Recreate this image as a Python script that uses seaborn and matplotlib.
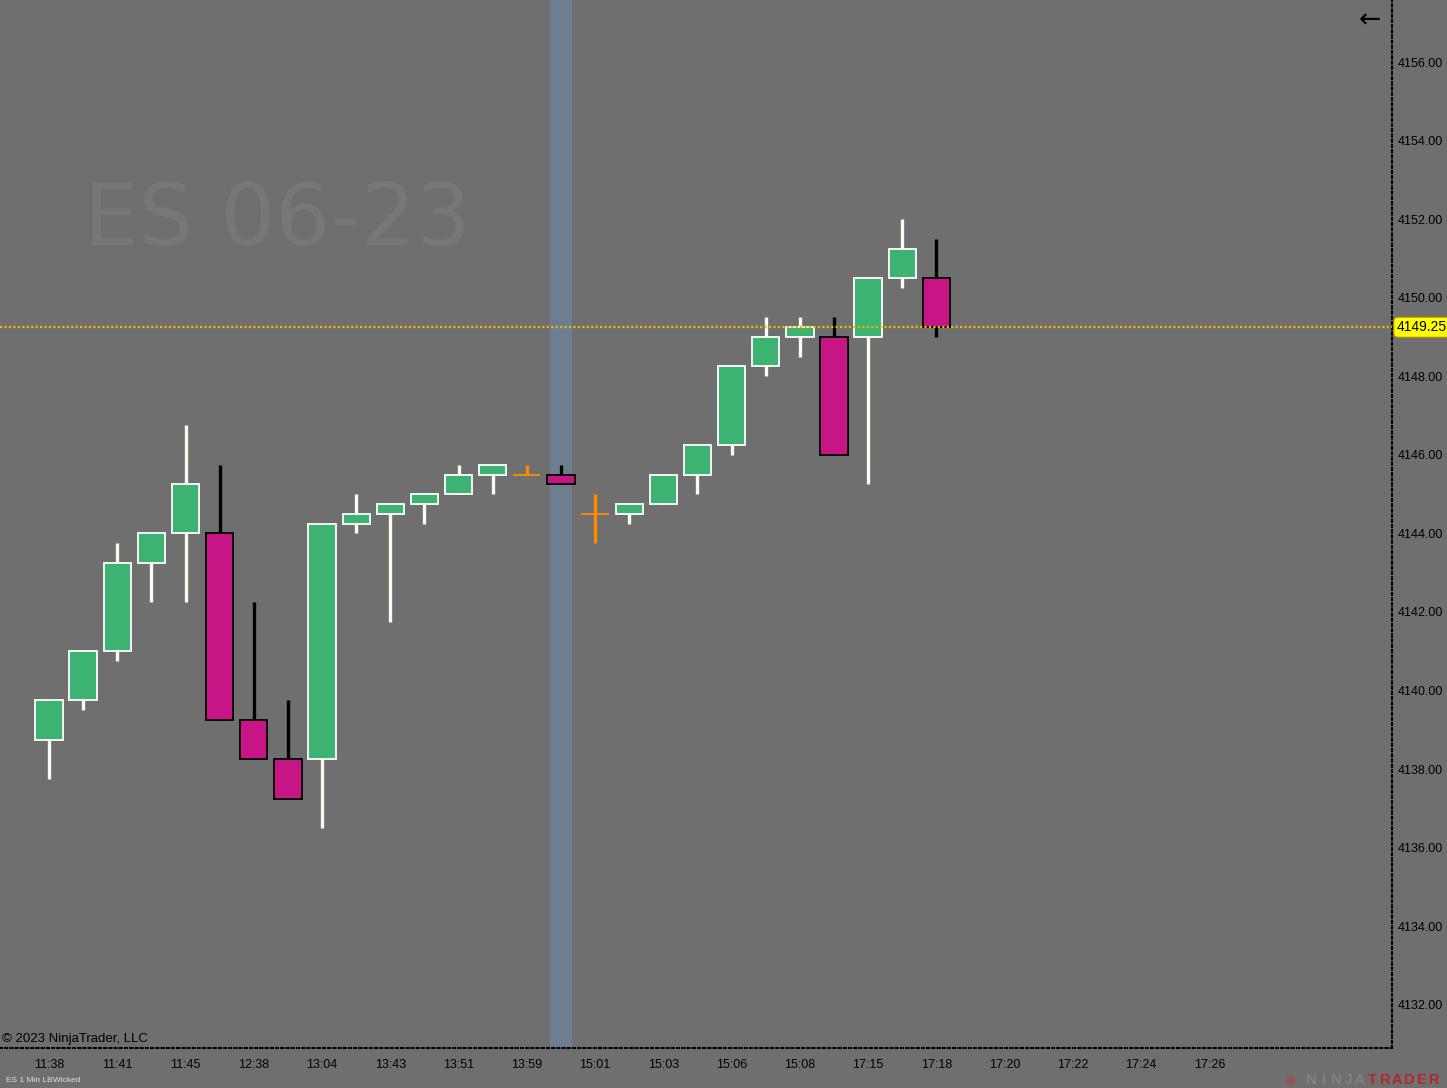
import matplotlib
matplotlib.use("Agg")
import matplotlib.pyplot as plt
import numpy as np
import pandas as pd
import seaborn as sns

# one-minute bars
opens = [4138.75, 4139.75, 4141.00, 4143.25, 4144.00, 4144.00, 4139.25, 4138.25, 4138.25,
         4144.25, 4144.50, 4144.75, 4145.00, 4145.50, 4145.50, 4145.50, 4144.50, 4144.50,
         4144.75, 4145.50, 4146.25, 4148.25, 4149.00, 4149.00, 4149.00, 4150.50, 4150.50]
closes = [4139.75, 4141.00, 4143.25, 4144.00, 4145.25, 4139.25, 4138.25, 4137.25, 4144.25,
          4144.50, 4144.75, 4145.00, 4145.50, 4145.75, 4145.50, 4145.25, 4144.50, 4144.75,
          4145.50, 4146.25, 4148.25, 4149.00, 4149.25, 4146.00, 4150.50, 4151.25, 4149.25]
highs = [4139.75, 4141.00, 4143.75, 4144.00, 4146.75, 4145.75, 4142.25, 4139.75, 4144.25,
         4145.00, 4144.75, 4145.00, 4145.75, 4145.75, 4145.75, 4145.75, 4145.00, 4144.75,
         4145.50, 4146.25, 4148.25, 4149.50, 4149.50, 4149.50, 4150.50, 4152.00, 4151.50]
lows = [4137.75, 4139.50, 4140.75, 4142.25, 4142.25, 4139.25, 4138.25, 4137.25, 4136.50,
        4144.00, 4141.75, 4144.25, 4145.00, 4145.00, 4145.50, 4145.25, 4143.75, 4144.25,
        4144.75, 4145.00, 4146.00, 4148.00, 4148.50, 4146.00, 4145.25, 4150.25, 4149.00]

time_labels = ["11:38", "11:41", "11:45", "12:38", "13:04", "13:43", "13:51", "13:59", "15:01",
               "15:03", "15:06", "15:08", "17:15", "17:18", "17:20", "17:22", "17:24", "17:26"]
price_ticks = [4132, 4134, 4136, 4138, 4140, 4142, 4144, 4146, 4148, 4150, 4152, 4154, 4156]
last_price = 4149.25
selected_bar = 15

df = pd.DataFrame({"open": opens, "high": highs, "low": lows, "close": closes})
df["idx"] = np.arange(len(df))
df["kind"] = np.where(df["close"] > df["open"], "up",
                      np.where(df["close"] < df["open"], "down", "doji"))

BG = "#6f6f6f"
UP = "#3cb371"
DOWN = "#c71585"
DOJI = "#ff8c00"

sns.set_theme(style="white", rc={"axes.facecolor": BG, "figure.facecolor": BG})
plt.rcParams["font.family"] = ["Liberation Sans", "DejaVu Sans"]

fig = plt.figure(figsize=(14.47, 10.88), dpi=100)
ax = fig.add_axes([0, 40 / 1088, 1392 / 1447, 1048 / 1088])
ax.set_facecolor(BG)

# highlighted bar column
ax.axvspan(selected_bar - 0.32, selected_bar + 0.32, color="#6d7e91", zorder=1, lw=0)

width = 0.8
wick_col = {"up": "#fffaf0", "down": "black", "doji": DOJI}
for kind, grp in df.groupby("kind"):
    ax.vlines(grp["idx"], grp["low"], grp["high"], colors=wick_col[kind], lw=2.4, zorder=2)
    if kind == "doji":
        ax.hlines(grp["open"], grp["idx"] - width / 2, grp["idx"] + width / 2,
                  colors=DOJI, lw=1.3, zorder=3)
    else:
        ax.bar(grp["idx"], grp["close"] - grp["open"], bottom=grp["open"], width=width,
               color=UP if kind == "up" else DOWN,
               edgecolor="white" if kind == "up" else "black", linewidth=1.3, zorder=3)

# last price line
ax.axhline(last_price, color="#e6b800", lw=1.6, ls=(0, (1, 1)), zorder=4)
ax.text(1.0035, last_price, f"{last_price:.2f}", transform=ax.get_yaxis_transform(),
        ha="left", va="center", fontsize=10, color="black", zorder=6, clip_on=False,
        bbox=dict(boxstyle="round,pad=0.22,rounding_size=0.3", fc="#ffff00", ec="#b09000", lw=0.8))

ax.set_xlim(-1.436, 39.35)
ax.set_ylim(4130.90, 4157.58)

ax.yaxis.tick_right()
ax.set_yticks(price_ticks)
ax.set_yticklabels([f"{p:.2f}" for p in price_ticks])
ax.set_xticks(np.arange(0, 2 * len(time_labels), 2))
ax.set_xticklabels(time_labels)
ax.tick_params(axis="both", length=0, labelsize=9, colors="black")
ax.tick_params(axis="y", pad=4)
ax.tick_params(axis="x", pad=8)

for side in ["top", "left"]:
    ax.spines[side].set_visible(False)
for side in ["right", "bottom"]:
    ax.spines[side].set_visible(True)
    ax.spines[side].set_color("black")
    ax.spines[side].set_linestyle((0, (1, 1.5)))
    ax.spines[side].set_linewidth(1.5)

# watermark and chrome
ax.text(0.060, 0.789, "ES 06-23", transform=ax.transAxes, ha="left", va="center",
        fontsize=62, color="#777777", zorder=0, family=["DejaVu Sans"])
ax.text(0.984, 0.98, "\u2190", transform=ax.transAxes, ha="center", va="center",
        fontsize=19, color="black", family=["DejaVu Sans"])
fig.text(2 / 1447, 1 - 1039 / 1088, "\u00a9 2023 NinjaTrader, LLC", ha="left", va="center",
         fontsize=9.5, color="black")
fig.text(6 / 1447, 1 - 1080 / 1088, "ES 1 Min LBWicked", ha="left", va="center",
         fontsize=6, color="#e0e0e0")

# logo
fig.text(1290 / 1447, 1 - 1080 / 1088, "\u25cf", ha="center", va="center",
         fontsize=10, color="#8a5a5a", family=["DejaVu Sans"])
for i, ch in enumerate("NINJATRADER"):
    fig.text((1311 + i * 12.3) / 1447, 1 - 1080 / 1088, ch, ha="center", va="center",
             fontsize=10.5, color="#8a8a8a" if i < 5 else "#b3262d",
             weight="normal" if i < 5 else "bold")

fig.savefig("out.png", dpi=100, facecolor=BG)
